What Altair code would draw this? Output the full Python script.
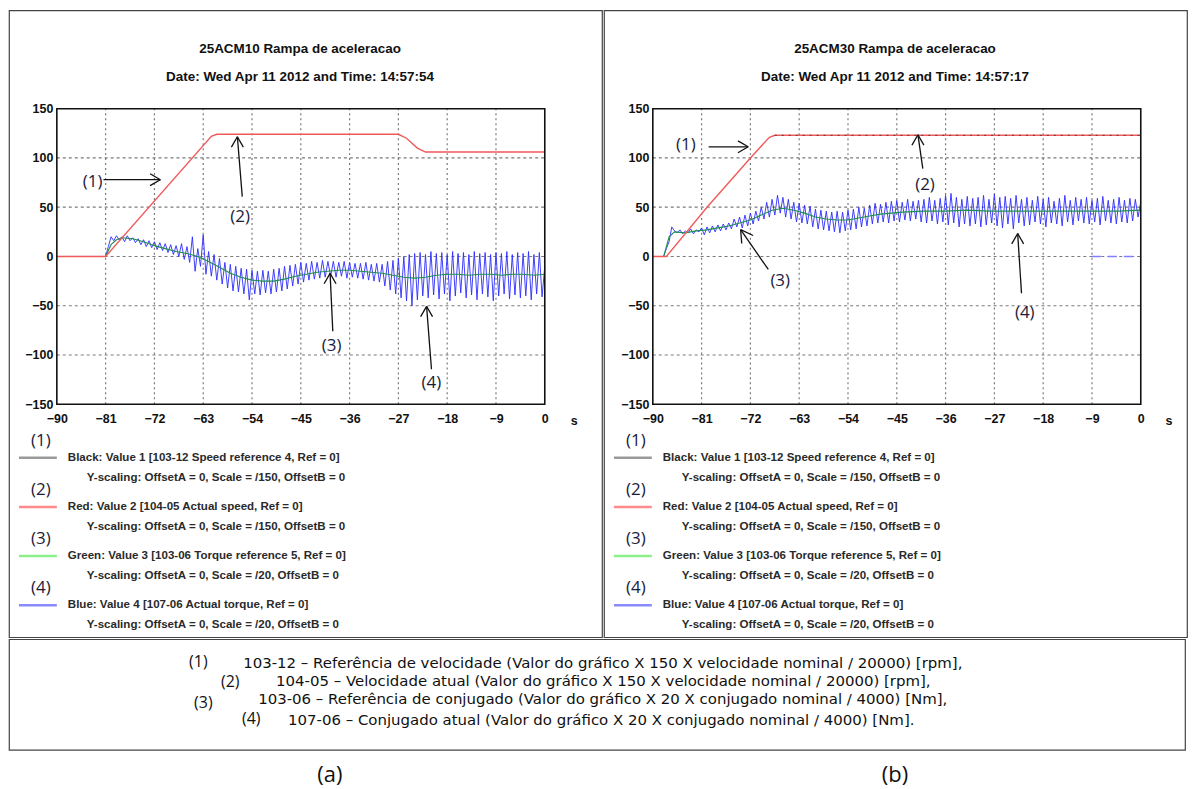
import altair as alt
import pandas as pd

# ---------------- data ----------------
x_ticks = [-90, -81, -72, -63, -54, -45, -36, -27, -18, -9, 0]
y_ticks = [-150, -100, -50, 0, 50, 100, 150]
grid_x = [-81, -72, -63, -54, -45, -36, -27, -18, -9]
grid_y = [-100, -50, 0, 50, 100]

titles_a = ["25ACM10 Rampa de aceleracao", "Date: Wed Apr 11 2012 and Time: 14:57:54"]
titles_b = ["25ACM30 Rampa de aceleracao", "Date: Wed Apr 11 2012 and Time: 14:57:17"]

# Panel (a) - actual speed (red)
red_a_t = [-90, -81, -61.5, -60.5, -27, -25.5, -23.5, -22, 0]
red_a_v = [0, 0, 122, 124, 124, 120, 110, 106, 106]
# Panel (a) - torque reference (green)
green_a_t = [-90, -81, -80, -79, -78, -76, -74, -72, -70, -68, -66, -64, -62, -60, -58,
             -56, -54, -52, -50, -48, -46, -44, -42, -40, -38, -36, -34, -32, -30, -28,
             -26, -24, -22, -20, -18, -16, -14, -12, -10, -8, -6, -4, -2, 0]
green_a_v = [0, 0, 12, 17, 19, 18, 15, 11, 8, 5, 3, 0, -5, -11, -17,
             -21, -24, -25, -25, -23, -20, -18, -16, -15, -14, -14, -15, -16, -17, -19,
             -21, -22, -21, -19, -18, -18, -19, -18, -18, -19, -18, -18, -19, -18]
# Panel (a) - actual torque (blue), idle until -81 s then sampled every 0.5 s
blue_a_idle = [-90, 0]
blue_a_start = -81
blue_a_step = 0.5
blue_a_v = [0, 10, 20,
            16, 21, 17, 20, 15, 21, 16, 19, 14, 18,
            12, 17, 10, 16, 9, 15, 7, 14, 6, 13,
            4, 12, 2, 11, 0, 13, -3, 10, -6, 20,
            -15, 8, -10, 22, -18, 5, -20, 2, -24, -2,
            -28, -6, -32, -8, -35, -10, -36, -12, -38, -13,
            -44, -14, -38, -15, -39, -14, -37, -15, -38, -13,
            -36, -12, -35, -10, -33, -9, -30, -8, -28, -6,
            -26, -7, -24, -5, -23, -6, -22, -4, -21, -5,
            -20, -5, -21, -6, -20, -5, -22, -6, -21, -7,
            -22, -7, -23, -6, -24, -8, -25, -7, -26, -8,
            -30, -5, -34, -4, -38, -2, -42, 0, -45, 2,
            -50, 3, -44, 4, -40, 2, -42, 5, -39, 3,
            -43, 4, -38, 2, -45, 5, -40, 3, -37, 4,
            -42, 2, -39, 5, -44, 3, -38, 4, -41, 2,
            -45, 4, -40, 3, -38, 5, -43, 2, -39, 4,
            -42, 3, -40, 5, -44, 2, -38, 4, -41, -10]

# Panel (b)
red_b_t = [-90, -87.5, -80, -72, -68.5, -67.5, 0]
red_b_v = [0, 0, 50, 100, 121, 123, 123]
black_b_t = [-67.5, 0]
black_b_v = [123, 123]
green_b_t = [-90, -88, -87, -86, -84, -82, -80, -78, -76, -74, -72, -70, -68, -66, -64,
             -62, -60, -58, -56, -54, -52, -50, -48, -46, -44, -40, -36, -32, -28, -24,
             -20, -16, -12, -8, -4, 0]
green_b_v = [0, 0, 20, 25, 24, 26, 27, 29, 31, 34, 37, 42, 47, 49, 47,
             44, 40, 38, 37, 37, 39, 41, 43, 44, 45, 46, 46, 47, 46, 46,
             46, 46, 46, 46, 46, 47]
blue_b_idle = [-90, 0]
blue_b_start = -88
blue_b_step = 0.5
blue_b_v = [0, 8, 15, 30, 26,
            24, 27, 23, 26, 24, 28, 23, 27, 25, 29,
            22, 30, 24, 31, 25, 32, 26, 33, 27, 34,
            28, 38, 30, 40, 29, 42, 31, 44, 33, 46,
            36, 50, 38, 55, 40, 58, 42, 62, 44, 60,
            40, 58, 38, 55, 35, 54, 34, 52, 33, 51,
            30, 48, 28, 47, 27, 46, 26, 45, 25, 46,
            24, 45, 26, 47, 27, 48, 28, 50, 30, 49,
            31, 52, 33, 54, 34, 53, 35, 55, 34, 56,
            36, 57, 35, 55, 37, 58, 36, 56, 38, 57,
            35, 58, 34, 60, 36, 57, 33, 59, 35, 62,
            32, 64, 34, 60, 30, 58, 33, 61, 31, 59,
            33, 60, 30, 62, 32, 58, 34, 63, 31, 60,
            29, 61, 33, 59, 28, 62, 34, 58, 31, 60,
            32, 57, 35, 61, 33, 58, 30, 60, 34, 56,
            33, 59, 31, 62, 35, 57, 32, 60, 36, 58,
            34, 60, 33, 57, 35, 59, 32, 61, 36, 57,
            34, 58, 33, 60, 35, 57, 34, 59, 36, 58,
            40, 55]
blue_b_gap_t = [-9, 0]
blue_b_gap_v = [0, 0]

# annotations (label text positions and arrow segments, data units)
ann_labels = ["(1)", "(2)", "(3)", "(4)"]
ann_a_x = [-83.4, -56.2, -39.3, -20.9]
ann_a_y = [75.9, 40.5, -91.1, -128.5]
ann_a_seg = [(-81.4, 77.9, -70.9, 77.9), (-70.9, 77.9, -72.8, 83.9), (-70.9, 77.9, -72.8, 71.9),
             (-55.8, 60.7, -56.7, 121.5), (-56.7, 121.5, -57.8, 111), (-56.7, 121.5, -55.6, 111),
             (-39.1, -75.9, -39.6, -17.2), (-39.6, -17.2, -40.7, -27.7), (-39.6, -17.2, -38.5, -27.7),
             (-20.9, -114.4, -21.8, -50.6), (-21.8, -50.6, -22.9, -61.1), (-21.8, -50.6, -20.7, -61.1)]
ann_b_x = [-83.9, -39.8, -66.5, -21.4]
ann_b_y = [113.4, 72.9, -25.3, -57.7]
ann_b_seg = [(-79.7, 111.3, -72.4, 111.3), (-72.4, 111.3, -74.3, 117.3), (-72.4, 111.3, -74.3, 105.3),
             (-40.2, 89.1, -41.1, 123.5), (-41.1, 123.5, -42.2, 113), (-41.1, 123.5, -40.0, 113),
             (-68.7, -13.2, -73.8, 27.3), (-73.8, 27.3, -73.6, 13.2), (-73.8, 27.3, -71.5, 21.3),
             (-22.0, -37.4, -22.7, 23.3), (-22.7, 23.3, -23.8, 12.8), (-22.7, 23.3, -21.6, 12.8)]

legend_lines = [
    "Black: Value 1 [103-12  Speed reference 4, Ref = 0]",
    "Y-scaling: OffsetA = 0, Scale = /150, OffsetB = 0",
    "Red: Value 2 [104-05  Actual speed, Ref = 0]",
    "Y-scaling: OffsetA = 0, Scale = /150, OffsetB = 0",
    "Green: Value 3 [103-06  Torque reference 5, Ref = 0]",
    "Y-scaling: OffsetA = 0, Scale = /20, OffsetB = 0",
    "Blue: Value 4 [107-06  Actual torque, Ref = 0]",
    "Y-scaling: OffsetA = 0, Scale = /20, OffsetB = 0",
]
legend_colors = ["#9a9a9a", "#ff8a8a", "#8af08a", "#8a8aff"]

caption_lines = [
    "103-12 \u2013 Refer\u00eancia de velocidade (Valor do gr\u00e1fico X 150 X velocidade nominal / 20000) [rpm],",
    "104-05 \u2013 Velocidade atual (Valor do gr\u00e1fico X 150 X velocidade nominal / 20000) [rpm],",
    "103-06 \u2013 Refer\u00eancia de conjugado (Valor do gr\u00e1fico X 20 X conjugado nominal / 4000) [Nm],",
    "107-06 \u2013 Conjugado atual (Valor do gr\u00e1fico X 20 X conjugado nominal / 4000) [Nm].",
]
panel_labels = ["(a)", "(b)"]

# ---------------- layout constants ----------------
PH = 629
PLOT_TOP, PLOT_BOT = 98.7, 395.3
FONT = "Liberation Sans"
ANN_FONT = "Open Sans"


def series_df(t, v):
    return pd.DataFrame({"t": t, "v": v})


def blue_df(idle, start, step, vals):
    t = [idle[0]] + [start + step * i for i in range(len(vals))]
    v = [idle[1]] + list(vals)
    return pd.DataFrame({"t": t, "v": v})


def pix():
    return dict(x=alt.X("px:Q", scale=None), y=alt.Y("py:Q", scale=None))


def panel(width, left, titles, red, green, blue, ann_x, ann_y, ann_seg, extras):
    xs = alt.Scale(domain=[x_ticks[0], x_ticks[-1]], range=[left, left + 489.6], nice=False, zero=False)
    ys = alt.Scale(domain=[y_ticks[0], y_ticks[-1]], range=[PLOT_BOT, PLOT_TOP], nice=False, zero=False)
    ax_x = alt.Axis(values=x_ticks, grid=False, ticks=False, domain=False, orient="bottom",
                    offset=PLOT_BOT - PH, labelPadding=8, labelFont=FONT, labelFontSize=12.5,
                    labelFontWeight="bold", labelColor="#111", labelFlush=False, labelOverlap=False,
                    title=None)
    ax_y = alt.Axis(values=y_ticks, grid=False, ticks=False, domain=False, orient="left",
                    offset=-left, labelPadding=4, labelFont=FONT, labelFontSize=12.5,
                    labelFontWeight="bold", labelColor="#111", labelFlush=False, labelOverlap=False,
                    title=None)

    def X(f):
        return alt.X(f, type="quantitative", scale=xs, axis=ax_x)

    def Y(f):
        return alt.Y(f, type="quantitative", scale=ys, axis=ax_y)

    layers = []
    gx = pd.DataFrame({"g": grid_x, "lo": y_ticks[0], "hi": y_ticks[-1]})
    layers.append(alt.Chart(gx).mark_rule(color="#7a7a7a", strokeDash=[2, 3], strokeWidth=1.2)
                  .encode(x=X("g"), y=Y("lo"), y2="hi"))
    gy = pd.DataFrame({"g": grid_y, "lo": x_ticks[0], "hi": x_ticks[-1]})
    layers.append(alt.Chart(gy).mark_rule(color="#7a7a7a", strokeDash=[3, 3], strokeWidth=1.2)
                  .encode(y=Y("g"), x=X("lo"), x2="hi"))
    layers.append(alt.Chart(blue).mark_line(color="#2b2bff", strokeWidth=1, opacity=0.9)
                  .encode(x=X("t"), y=Y("v"), order="t:Q"))
    layers.append(alt.Chart(green).mark_line(color="#1f8f4f", strokeWidth=1.1)
                  .encode(x=X("t"), y=Y("v")))
    layers.append(alt.Chart(red).mark_line(color="#f25a5a", strokeWidth=1.4)
                  .encode(x=X("t"), y=Y("v")))
    for df, props in extras:
        layers.append(alt.Chart(df).mark_line(**props).encode(x=X("t"), y=Y("v")))
    frame = pd.DataFrame({"x0": [x_ticks[0]], "x1": [x_ticks[-1]], "y0": [y_ticks[0]], "y1": [y_ticks[-1]]})
    layers.append(alt.Chart(frame).mark_rect(fillOpacity=0, stroke="#111", strokeWidth=1.6)
                  .encode(x=X("x0"), x2="x1", y=Y("y0"), y2="y1"))
    seg = pd.DataFrame(ann_seg, columns=["x1", "y1", "x2", "y2"])
    layers.append(alt.Chart(seg).mark_rule(color="#111", strokeWidth=1.3)
                  .encode(x=X("x1"), y=Y("y1"), x2="x2", y2="y2"))
    lab = pd.DataFrame({"label": ann_labels, "x": ann_x, "y": ann_y})
    layers.append(alt.Chart(lab).mark_text(font=ANN_FONT, fontSize=17, color="#1b1b3a")
                  .encode(x=X("x"), y=Y("y"), text="label"))

    # titles
    tdf = pd.DataFrame({"text": titles, "px": [292, 292], "py": [39, 67]})
    layers.append(alt.Chart(tdf).mark_text(font=FONT, fontSize=13.5, fontWeight="bold", color="#111")
                  .encode(text="text", **pix()))
    sdf = pd.DataFrame({"text": ["s"], "px": [567], "py": [412]})
    layers.append(alt.Chart(sdf).mark_text(font=FONT, fontSize=12.5, fontWeight="bold", color="#111")
                  .encode(text="text", **pix()))

    # legend block
    rows, marks, lines = [], [], []
    for k in range(4):
        y0 = 449 + 49.3 * k
        rows.append({"text": legend_lines[2 * k], "px": 59, "py": y0})
        rows.append({"text": legend_lines[2 * k + 1], "px": 78, "py": y0 + 20})
        marks.append({"text": ann_labels[k], "px": 32, "py": y0 - 17})
        lines.append({"c": legend_colors[k], "px0": 10, "px1": 48, "py": y0})
    layers.append(alt.Chart(pd.DataFrame(rows)).mark_text(font=FONT, fontSize=11.6, fontWeight="bold",
                                                          color="#2a2a2a", align="left")
                  .encode(text="text", **pix()))
    layers.append(alt.Chart(pd.DataFrame(marks)).mark_text(font=ANN_FONT, fontSize=17, color="#1b1b3a")
                  .encode(text="text", **pix()))
    layers.append(alt.Chart(pd.DataFrame(lines)).mark_rule(strokeWidth=2.5)
                  .encode(x=alt.X("px0:Q", scale=None), x2="px1", y=alt.Y("py:Q", scale=None),
                          color=alt.Color("c:N", scale=None)))
    return alt.layer(*layers).properties(width=width, height=PH)


pa = panel(595, 48, titles_a, series_df(red_a_t, red_a_v), series_df(green_a_t, green_a_v),
           blue_df(blue_a_idle, blue_a_start, blue_a_step, blue_a_v),
           ann_a_x, ann_a_y, ann_a_seg, [])
pb = panel(585, 49, titles_b, series_df(red_b_t, red_b_v), series_df(green_b_t, green_b_v),
           blue_df(blue_b_idle, blue_b_start, blue_b_step, blue_b_v),
           ann_b_x, ann_b_y, ann_b_seg,
           [(series_df(blue_b_gap_t, blue_b_gap_v), dict(color="#8080ff", strokeWidth=1.5, strokeDash=[9, 7])),
            (series_df(black_b_t, black_b_v), dict(color="#222", strokeWidth=1, strokeDash=[2, 5], opacity=0.7))])

top = alt.hconcat(pa, pb, spacing=0).resolve_scale(x="independent", y="independent")

# caption box
cap_rows = pd.DataFrame({"text": caption_lines, "px": [235, 268, 250, 280], "py": [24, 42, 60, 81]})
cap_marks = pd.DataFrame({"text": ann_labels, "px": [190, 222, 195, 243], "py": [23, 43, 64, 80]})
ab = pd.DataFrame({"text": panel_labels, "px": [322, 889], "py": [136, 136]})
caption = alt.layer(
    alt.Chart(cap_rows).mark_text(font="DejaVu Sans", fontSize=15, color="#111", align="left")
    .encode(text="text", **pix()),
    alt.Chart(cap_marks).mark_text(font=ANN_FONT, fontSize=16, color="#111")
    .encode(text="text", **pix()),
    alt.Chart(ab).mark_text(font=ANN_FONT, fontSize=22, color="#111")
    .encode(text="text", **pix()),
).properties(width=1180, height=111)

chart = (alt.vconcat(top, caption, spacing=0)
         .properties(padding=0, background="white")
         .configure_view(stroke="#444", strokeWidth=1.2))

chart.save("out.html", embed_options={"renderer": "svg", "actions": False})
